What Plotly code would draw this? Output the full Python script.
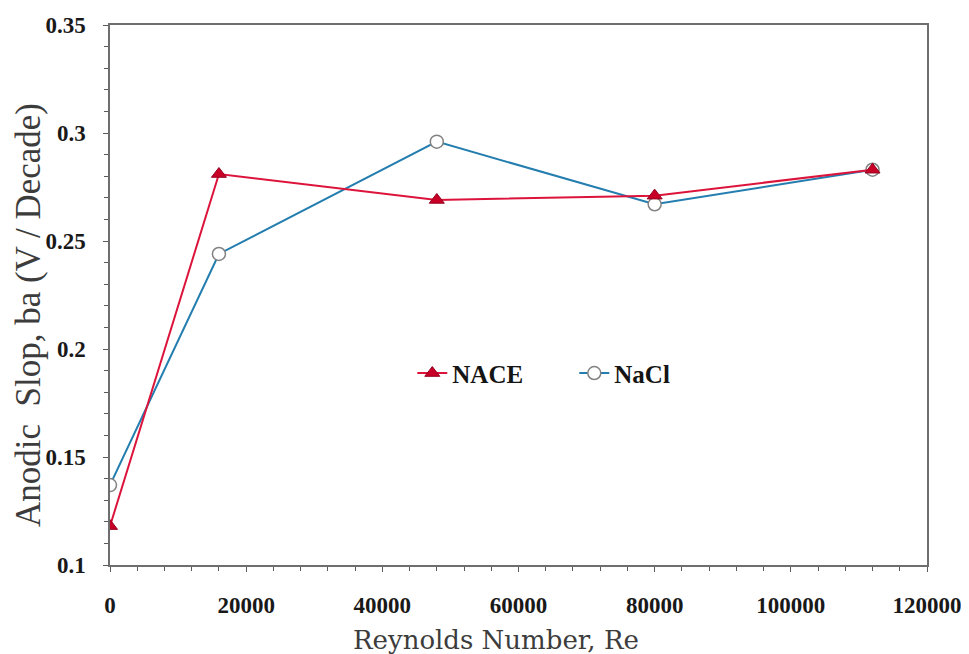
import plotly.graph_objects as go

reynolds = [0, 16000, 48000, 80000, 112000]
nace_ba = [0.118, 0.281, 0.269, 0.271, 0.283]
nacl_ba = [0.137, 0.244, 0.296, 0.267, 0.283]

serif = "Liberation Serif, Times New Roman, serif"
wide_serif = "DejaVu Serif, serif"

fig = go.Figure()

fig.add_trace(go.Scatter(
    x=reynolds, y=nacl_ba, name="NaCl", mode="lines+markers",
    line=dict(color="rgb(35,125,175)", width=2),
    marker=dict(symbol="circle", size=13, color="white",
                line=dict(color="rgb(130,130,130)", width=1.5))))

fig.add_trace(go.Scatter(
    x=reynolds, y=nace_ba, name="NACE", mode="lines+markers",
    line=dict(color="rgb(220,20,60)", width=2),
    marker=dict(symbol="triangle-up", size=13, color="rgb(200,0,40)",
                line=dict(color="rgb(150,0,30)", width=1))))

axis_style = dict(showline=True, mirror=True, linecolor="rgb(110,110,110)", linewidth=1.5,
                  showgrid=False, zeroline=False, ticks="outside", ticklen=5,
                  tickcolor="rgb(90,90,90)", automargin=False,
                  tickfont=dict(family=serif, size=23, color="rgb(25,25,25)", weight="bold"))

fig.update_xaxes(range=[0, 120000], dtick=20000, tickformat="d", ticklabelstandoff=14,
                 minor=dict(dtick=4000, ticks="outside", ticklen=4, tickcolor="rgb(90,90,90)"),
                 **axis_style)
fig.update_yaxes(range=[0.1, 0.35], dtick=0.05, tickformat=".2~f", ticklabelstandoff=13,
                 minor=dict(dtick=0.01, ticks="outside", ticklen=4, tickcolor="rgb(90,90,90)"),
                 **axis_style)

# axis titles as annotations so they sit where the original has them
fig.add_annotation(text="Reynolds Number, Re", xref="paper", yref="paper",
                   x=0.4725, y=-0.139, xanchor="center", yanchor="middle", showarrow=False,
                   font=dict(family=wide_serif, size=26, color="rgb(60,60,60)"))
fig.add_annotation(text="Anodic  Slop, ba (V / Decade)", xref="paper", yref="paper",
                   x=-0.099, y=0.463, xanchor="center", yanchor="middle",
                   showarrow=False, textangle=-90,
                   font=dict(family=serif, size=35, color="rgb(60,60,60)"))

fig.update_layout(
    width=969, height=654,
    margin=dict(l=102, r=50, t=17, b=97),
    paper_bgcolor="white", plot_bgcolor="white",
    legend=dict(orientation="h", x=0.37, y=0.355, xanchor="left", yanchor="middle",
                traceorder="reversed", bgcolor="rgba(0,0,0,0)",
                entrywidth=117, entrywidthmode="pixels",
                font=dict(family=serif, size=25, color="rgb(20,20,20)", weight="bold")),
)

fig.write_html("out.html")
